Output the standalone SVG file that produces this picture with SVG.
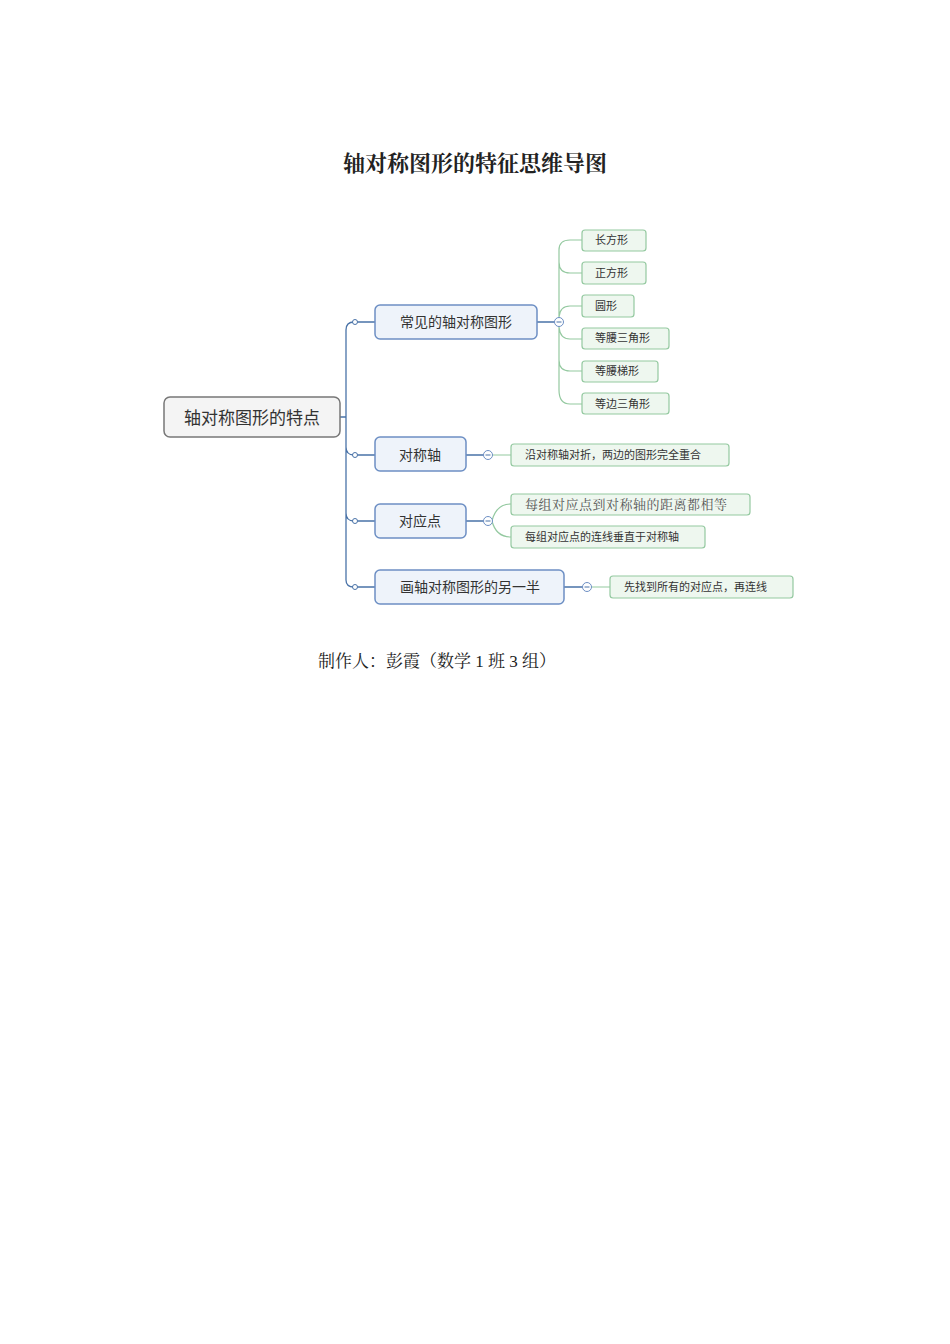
<svg xmlns="http://www.w3.org/2000/svg" width="950" height="1344" viewBox="0 0 950 1344">
<style>
.t{font-family:"Noto Sans CJK SC",sans-serif;fill:#333}
.s{font-family:"Liberation Serif","Noto Serif CJK SC","Noto Sans CJK SC",serif;fill:#222}
.root{fill:#f4f4f4;stroke:#777;stroke-width:1.5}
.l1{fill:#eef3fa;stroke:#6d8fc4;stroke-width:1.5}
.lf{fill:#eef7ef;stroke:#94c9a0;stroke-width:1.2}
.bl{fill:none;stroke:#4a73a8;stroke-width:1.3}
.gr{fill:none;stroke:#94c9a0;stroke-width:1.2}
.dot{fill:#fff;stroke:#4a73a8;stroke-width:1}
.col{fill:#fff;stroke:#6d8fc4;stroke-width:1}
</style>
<rect width="950" height="1344" fill="#fff"/>
<text x="475" y="171" text-anchor="middle" class="s" font-size="22" font-weight="bold">轴对称图形的特征思维导图</text>
<g id="connectors">
<path class="bl" d="M340 417 H346 M346 330 V580 M346 330 Q346 322 354 322 H375 M346 447 Q346 455 354 455 H375 M346 513 Q346 521 354 521 H375 M346 580 Q346 587 354 587 H375"/>
<circle class="dot" cx="355" cy="322" r="2.5"/><circle class="dot" cx="355" cy="455" r="2.5"/><circle class="dot" cx="355" cy="521" r="2.5"/><circle class="dot" cx="355" cy="587" r="2.5"/>
<path class="bl" d="M537 322 H555 M466 455 H484 M466 521 H484 M564 587 H583"/>
<path class="gr" d="M559 322 Q559 308 559 250 Q559 240 570 240 H582 M559 262 Q559 273 570 273 H582 M559 317 Q560 306 570 306 H582 M559 327 Q560 339 570 339 H582 M559 360 Q559 371 570 371 H582 M559 390 Q559 404 570 404 H582 M559 322 V390 M559 262 V317"/>
<path class="gr" d="M492 455 H511 M492 521 Q496 504 511 504 M492 521 Q496 537 511 537 M591 587 H610"/>
<g class="col"><circle cx="559" cy="322" r="4.5"/><circle cx="488" cy="455" r="4.5"/><circle cx="488" cy="521" r="4.5"/><circle cx="587" cy="587" r="4.5"/></g>
<path stroke="#4a73a8" stroke-width="1" d="M556.5 322H561.5M485.5 455H490.5M485.5 521H490.5M584.5 587H589.5"/>
</g>
<g id="root"><rect class="root" x="164" y="397" width="176" height="40" rx="6"/><text class="t" x="252" y="424" font-size="17" text-anchor="middle">轴对称图形的特点</text></g>
<g id="n1"><rect class="l1" x="375" y="305" width="162" height="34" rx="5"/><text class="t" x="456" y="327" font-size="14" text-anchor="middle">常见的轴对称图形</text></g>
<g id="n2"><rect class="l1" x="375" y="437" width="91" height="34" rx="5"/><text class="t" x="420" y="460" font-size="14" text-anchor="middle">对称轴</text></g>
<g id="n3"><rect class="l1" x="375" y="504" width="91" height="34" rx="5"/><text class="t" x="420" y="526" font-size="14" text-anchor="middle">对应点</text></g>
<g id="n4"><rect class="l1" x="375" y="570" width="189" height="34" rx="5"/><text class="t" x="470" y="592" font-size="14" text-anchor="middle">画轴对称图形的另一半</text></g>
<g font-size="11">
<g id="a1"><rect class="lf" x="582" y="230" width="64" height="21" rx="3"/><text class="t" x="595" y="244">长方形</text></g>
<g id="a2"><rect class="lf" x="582" y="262" width="64" height="22" rx="3"/><text class="t" x="595" y="277">正方形</text></g>
<g id="a3"><rect class="lf" x="582" y="295" width="52" height="22" rx="3"/><text class="t" x="595" y="310">圆形</text></g>
<g id="a4"><rect class="lf" x="582" y="328" width="87" height="21" rx="3"/><text class="t" x="595" y="342">等腰三角形</text></g>
<g id="a5"><rect class="lf" x="582" y="361" width="76" height="21" rx="3"/><text class="t" x="595" y="375">等腰梯形</text></g>
<g id="a6"><rect class="lf" x="582" y="393" width="87" height="21" rx="3"/><text class="t" x="595" y="408">等边三角形</text></g>
<g id="b1"><rect class="lf" x="511" y="444" width="218" height="22" rx="3"/><text class="t" x="525" y="459">沿对称轴对折，两边的图形完全重合</text></g>
<g id="c1"><rect class="lf" x="511" y="494" width="239" height="21" rx="3"/><text class="s" x="525" y="509" font-size="13" style="fill:#555;letter-spacing:0.5px">每组对应点到对称轴的距离都相等</text></g>
<g id="c2"><rect class="lf" x="511" y="526" width="194" height="22" rx="3"/><text class="t" x="525" y="541">每组对应点的连线垂直于对称轴</text></g>
<g id="d1"><rect class="lf" x="610" y="576" width="183" height="22" rx="3"/><text class="t" x="624" y="591">先找到所有的对应点，再连线</text></g>
</g>
<text class="s" x="318" y="667" font-size="17">制作人：彭霞（数学 1 班 3 组）</text>
</svg>
